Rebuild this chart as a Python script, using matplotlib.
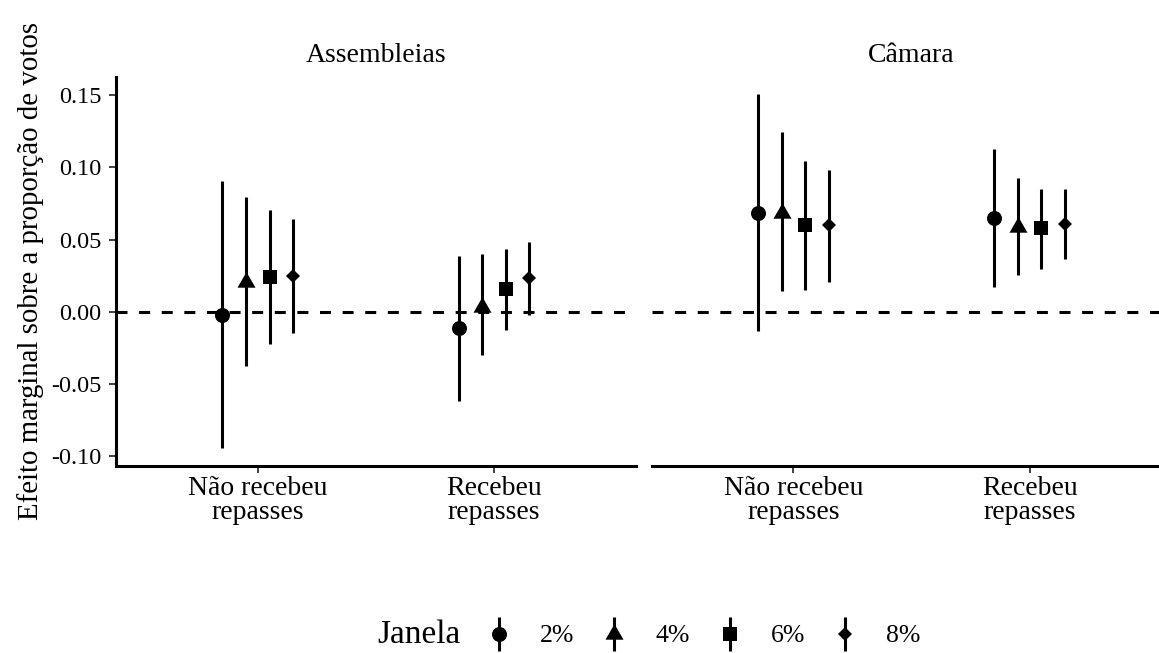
import numpy as np
import matplotlib
matplotlib.use("Agg")
import matplotlib.pyplot as plt
from matplotlib.path import Path
from matplotlib.markers import MarkerStyle
from matplotlib.legend_handler import HandlerErrorbar, HandlerTuple
from matplotlib.container import ErrorbarContainer
from matplotlib.lines import Line2D

# ---------------- data ----------------
panels = ["Assembleias", "Câmara"]
categories = ["Não recebeu\nrepasses", "Recebeu\nrepasses"]
janelas = ["2%", "4%", "6%", "8%"]

# Assembleias: estimate / lower / upper for each janela, per category
ass_est = [[-0.0020, -0.0113], [0.0206, 0.0037], [0.0240, 0.0159], [0.0249, 0.0233]]
ass_lo  = [[-0.0942, -0.0619], [-0.0377, -0.0300], [-0.0222, -0.0127], [-0.0145, -0.0019]]
ass_hi  = [[0.0909, 0.0385], [0.0794, 0.0399], [0.0704, 0.0438], [0.0646, 0.0485]]

# Câmara
cam_est = [[0.0686, 0.0648], [0.0686, 0.0589], [0.0598, 0.0579], [0.0598, 0.0611]]
cam_lo  = [[-0.0134, 0.0173], [0.0143, 0.0258], [0.0154, 0.0300], [0.0205, 0.0367]]
cam_hi  = [[0.1505, 0.1124], [0.1244, 0.0928], [0.1041, 0.0847], [0.0981, 0.0852]]

yticks = [-0.10, -0.05, 0.00, 0.05, 0.10, 0.15]
ytick_labels = ["-0.10", "-0.05", "0.00", "0.05", "0.10", "0.15"]

# ---------------- style ----------------
FONT = ["Liberation Serif", "DejaVu Serif"]
plt.rcParams["font.family"] = FONT
FS_NUM = 17.5     # numbers
FS_TXT = 20.0     # words
FS_LEG = 18.5
LW = 2.2

W, H = 1159, 653
fig = plt.figure(figsize=(W / 100, H / 100), dpi=100)

tri = Path([(0, 1.5551), (1.3468, -0.7776), (-1.3468, -0.7776), (0, 1.5551)],
           [Path.MOVETO, Path.LINETO, Path.LINETO, Path.CLOSEPOLY])
markers = ["o", MarkerStyle(tri), "s", "D"]
msizes = [10.8, 15.0, 9.8, 7.0]
dodge = 0.4
offsets = [(i - 1.5) * dodge / 4 for i in range(4)]

# panel geometry (pixels)
px_left = [116, 651.7]
px_w = 519.7
px_top, px_bot = 76.7, 465.7

axes = []
for p in range(2):
    ax = fig.add_axes([px_left[p] / W, 1 - px_bot / H, px_w / W, (px_bot - px_top) / H],
                      sharey=axes[0] if axes else None)
    axes.append(ax)

datasets = [(ass_est, ass_lo, ass_hi), (cam_est, cam_lo, cam_hi)]
handles = []
xpos = np.arange(len(categories))
for p, ax in enumerate(axes):
    est, lo, hi = datasets[p]
    ax.axhline(0, color="black", lw=LW, dashes=(3.6, 3.8), zorder=1)
    for j in range(len(janelas)):
        e = np.array(est[j]); l = np.array(lo[j]); h = np.array(hi[j])
        ax.errorbar(xpos + offsets[j], e, yerr=[e - l, h - e], fmt="none",
                    ecolor="black", elinewidth=LW, capsize=0, zorder=2)
        ax.plot(xpos + offsets[j], e, linestyle="none", marker=markers[j],
                markersize=msizes[j], color="black", markeredgewidth=0, zorder=3)
        if p == 0:
            hc = ax.errorbar([np.nan], [np.nan], yerr=[[0], [0]], fmt="none",
                             ecolor="black", elinewidth=LW, capsize=0)
            handles.append(hc)
    ax.set_xlim(-0.6, 1.6)
    ax.set_xticks(xpos)
    ax.set_xticklabels(categories, fontsize=FS_TXT, linespacing=0.92)
    ax.set_title(panels[p], fontsize=FS_TXT, pad=10.5)
    for s in ["top", "right"]:
        ax.spines[s].set_visible(False)
    ax.spines["bottom"].set_linewidth(LW)
    ax.spines["left"].set_linewidth(LW)
    ax.tick_params(axis="x", length=5, width=1.3, color="#333333", pad=2.5, labelcolor="black")
    ax.tick_params(axis="y", length=5, width=1.3, color="#333333", pad=5.5, labelsize=FS_NUM,
                   labelcolor="black")
    ax.set_facecolor("none")

axes[0].margins(y=0.05)
axes[0].set_yticks(yticks)
axes[0].set_yticklabels(ytick_labels)
axes[1].spines["left"].set_visible(False)
axes[1].tick_params(axis="y", left=False, labelleft=False)

fig.text(31 / W, 1 - 271 / H, "Efeito marginal sobre a proporção de votos",
         rotation=90, ha="center", va="center", fontsize=20.8)

# ---------------- legend ----------------
leg_handles = []
for j in range(len(janelas)):
    mk = Line2D([], [], linestyle="none", marker=markers[j], markersize=msizes[j],
                color="black", markeredgewidth=0)
    leg_handles.append((handles[j], mk))

fs_px = FS_LEG * 100 / 72
leg = fig.legend(leg_handles, janelas, ncol=4, frameon=False, fontsize=FS_LEG,
                 loc="center left", bbox_to_anchor=(487 / W, 1 - 636 / H),
                 borderpad=0, borderaxespad=0, handlelength=24 / fs_px,
                 handletextpad=29 / fs_px, columnspacing=28 / fs_px,
                 handler_map={tuple: HandlerTuple(ndivide=1, pad=0),
                              ErrorbarContainer: HandlerErrorbar(yerr_size=17 / fs_px)})
fig.text(377 / W, 1 - 643 / H, "Janela", fontsize=24, ha="left", va="baseline")

fig.savefig("out.png", dpi=100)
